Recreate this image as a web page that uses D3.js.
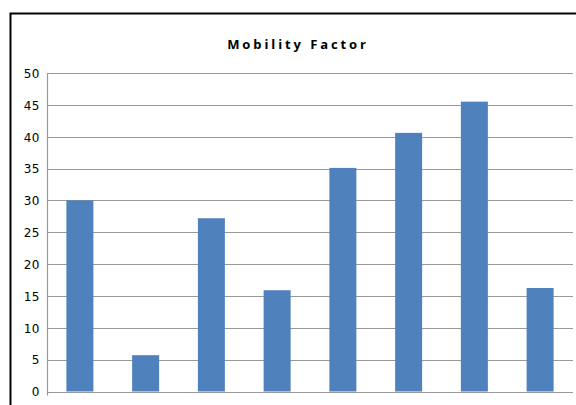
<!DOCTYPE html>
<html><head><meta charset="utf-8">
<script src="https://cdn.jsdelivr.net/npm/d3@7"></script>
<style>body{margin:0;background:#fff}svg{display:block}</style>
</head><body>
<svg id="c" width="576" height="405"></svg>
<script>
const categories = ["A","B","C","D","E","F","G","H"];
const values = [30, 5.7, 27.2, 15.9, 35.1, 40.6, 45.5, 16.25];
const yTicks = [0,5,10,15,20,25,30,35,40,45,50];
const title = "Mobility Factor";

const svg = d3.select("#c");
svg.append("rect").attr("x",0).attr("y",0).attr("width",576).attr("height",405).attr("fill","#fff");
// outer chart border (cropped)
svg.append("path").attr("d","M10.5,410 V13.5 H590").attr("fill","none").attr("stroke","#000").attr("stroke-width",2);

const m = {l:47, t:73, r:573, b:391.5};
const x = d3.scaleBand().domain(categories).range([m.l, m.r]).paddingInner(0.59).paddingOuter(0.295);
const y = d3.scaleLinear().domain([0,50]).range([m.b, m.t]);

svg.append("g").selectAll("line").data(yTicks).join("line")
  .attr("x1",m.l).attr("x2",m.r)
  .attr("y1",d=>Math.round(y(d))+0.5).attr("y2",d=>Math.round(y(d))+0.5)
  .attr("stroke","#999").attr("stroke-width",1.2);
svg.append("line").attr("x1",m.l+0.5).attr("x2",m.l+0.5).attr("y1",m.t).attr("y2",m.b+4)
  .attr("stroke","#999").attr("stroke-width",1.2);

const yAxis = d3.axisLeft(y).tickValues(yTicks).tickSize(0).tickPadding(7);
const ga = svg.append("g").attr("transform",`translate(${m.l},0.5)`).call(yAxis);
ga.select(".domain").remove();
ga.selectAll("text").attr("font-family","DejaVu Sans, sans-serif").attr("font-size",12)
  .attr("letter-spacing","0.5px").attr("fill","#000");

const bw = 27;
svg.append("g").selectAll("rect").data(values).join("rect")
  .attr("x",(d,i)=>x(categories[i]) + x.bandwidth()/2 - bw/2)
  .attr("width",bw)
  .attr("y",d=>y(d)).attr("height",d=>y(0)-y(d))
  .attr("fill","#4F81BD");

svg.append("text").attr("x",298).attr("y",49).attr("text-anchor","middle")
  .attr("font-family","Open Sans, DejaVu Sans, sans-serif").attr("font-weight","bold")
  .attr("font-size",13).attr("letter-spacing","2.9px").attr("fill","#000").text(title);
</script>
</body></html>
